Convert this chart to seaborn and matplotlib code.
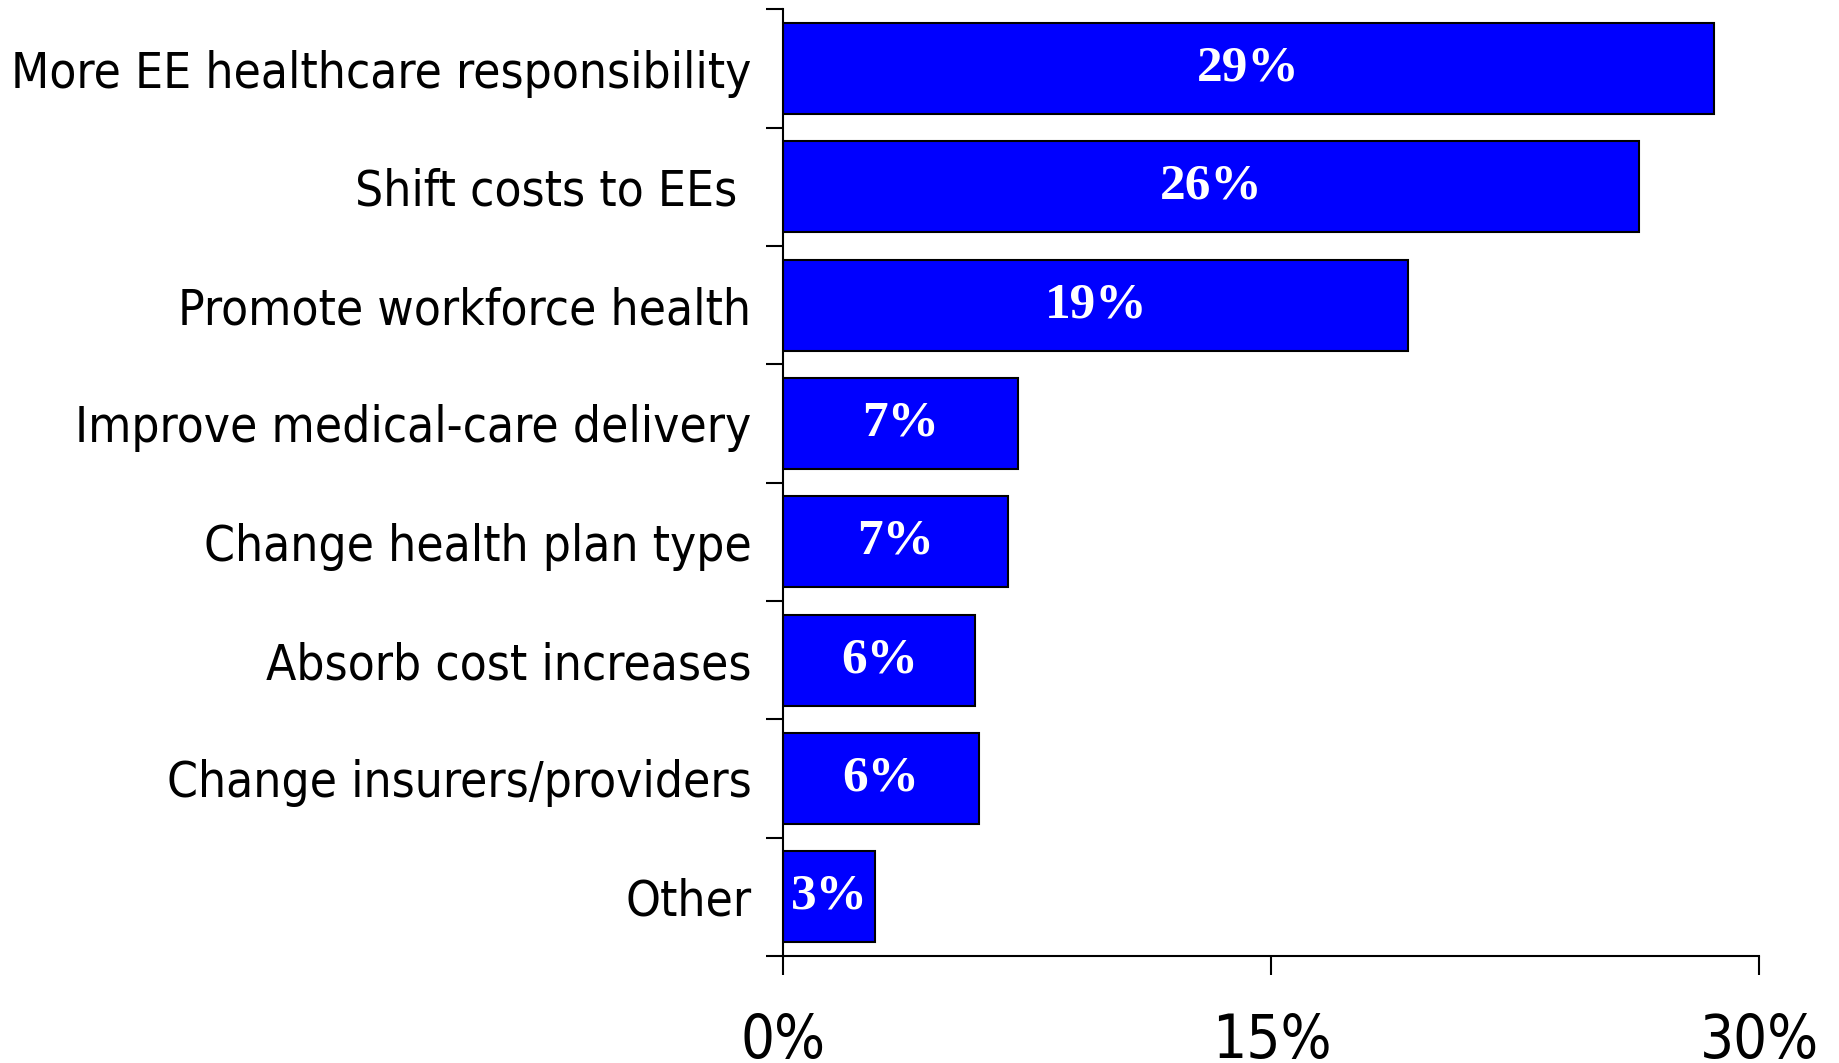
import matplotlib
matplotlib.use("Agg")
import matplotlib.pyplot as plt
import seaborn as sns
import pandas as pd
from matplotlib.ticker import FixedLocator
from matplotlib.font_manager import findfont, FontProperties

categories = [
    "More EE healthcare responsibility",
    "Shift costs to EEs ",
    "Promote workforce health",
    "Improve medical-care delivery",
    "Change health plan type",
    "Absorb cost increases",
    "Change insurers/providers",
    "Other",
]
values = [28.6, 26.3, 19.2, 7.2, 6.9, 5.9, 6.0, 2.8]
value_labels = ["29%", "26%", "19%", "7%", "7%", "6%", "6%", "3%"]
xtick_values = [0, 15, 30]
xtick_labels = ["0%", "15%", "30%"]

df = pd.DataFrame({"category": categories, "value": values})

sns.set_theme(style="white")

sans = "DejaVu Sans"
stretch = "condensed"
try:
    findfont(FontProperties(family="Liberation Sans Narrow"), fallback_to_default=False)
    sans = "Liberation Sans Narrow"
    stretch = "normal"
except Exception:
    pass

plt.rcParams["font.family"] = [sans, "DejaVu Sans"]
plt.rcParams["text.color"] = "black"
plt.rcParams["xtick.color"] = "black"
plt.rcParams["ytick.color"] = "black"
plt.rcParams["axes.labelcolor"] = "black"

fig = plt.figure(figsize=(18.39, 10.63), dpi=100)
ax = fig.add_axes([0.426, 0.1007, 0.5307, 0.8905])

sns.barplot(data=df, x="value", y="category", orient="h", color="#0000FF",
            saturation=1, width=0.77, edgecolor="black", linewidth=1.5, ax=ax)

ax.set_xlim(0, 30)
ax.set_ylim(len(categories) - 0.5, -0.5)
ax.set_xlabel("")
ax.set_ylabel("")

for spine in ["top", "right"]:
    ax.spines[spine].set_visible(False)
for spine in ["left", "bottom"]:
    ax.spines[spine].set_color("black")
    ax.spines[spine].set_linewidth(1.5)

ax.set_xticks(xtick_values)
ax.set_xticklabels(xtick_labels)
ax.tick_params(axis="x", direction="out", length=14, width=1.5, color="black",
               pad=26, bottom=True)
for t in ax.get_xticklabels():
    t.set_fontsize(43)
    t.set_fontstretch(stretch)
    t.set_color("black")

ax.set_yticks(range(len(categories)))
ax.set_yticklabels(categories)
ax.tick_params(axis="y", which="major", length=0, pad=23)
ax.yaxis.set_minor_locator(FixedLocator([i - 0.5 for i in range(len(categories) + 1)]))
ax.tick_params(axis="y", which="minor", direction="out", length=12, width=1.5,
               color="black", left=True)
for t in ax.get_yticklabels():
    t.set_fontsize(40)
    t.set_fontstretch(stretch)
    t.set_color("black")

# fit longest category label to the reference width (~740 px)
fig.canvas.draw()
r = fig.canvas.get_renderer()
w = max(t.get_window_extent(r).width for t in ax.get_yticklabels())
scale = 740.0 / w
for t in ax.get_yticklabels():
    t.set_fontsize(40 * scale)

for i, (v, lab) in enumerate(zip(values, value_labels)):
    ax.text(v / 2, i, lab, ha="center", va="center", color="white",
            fontsize=37, fontweight="bold", fontfamily="Liberation Serif")

fig.savefig("out.png", dpi=100)
